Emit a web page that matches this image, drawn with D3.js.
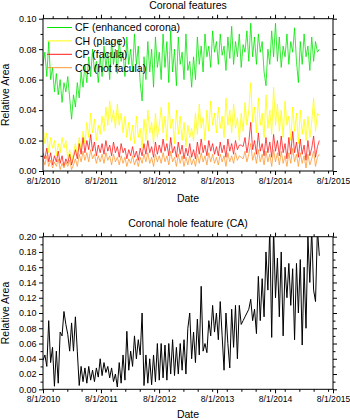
<!DOCTYPE html>
<html><head><meta charset="utf-8">
<script src="https://cdn.jsdelivr.net/npm/d3@7"></script>
<style>
body{margin:0;background:#fff}
text{font-family:"Liberation Sans",Arial,sans-serif;fill:#000}
</style>
</head><body>
<svg id="c" width="350" height="420"></svg>
<script>
// ---------- data ----------
const startDate = "2010-08-01";
const stepDays = 12;
const xTickLabels = ["8/1/2010","8/1/2011","8/1/2012","8/1/2013","8/1/2014","8/1/2015"];
const topTitle = "Coronal features";
const bottomTitle = "Coronal hole feature (CA)";
const seriesNames = ["CF (enhanced corona)","CH (plage)","CP (facula)","CQ (hot facula)"];
const seriesColors = ["#00e600","#ffff00","#ff1a1a","#ff9933"];

const CF = [0.07,0.078,0.062,0.085,0.06,0.068,0.052,0.064,0.05,0.06,0.045,0.058,0.052,0.062,0.048,0.034,
0.05,0.042,0.058,0.048,0.065,0.055,0.07,0.058,0.075,0.062,0.08,0.065,0.072,0.058,0.075,
0.062,0.082,0.068,0.078,0.06,0.085,0.07,0.08,0.064,0.086,0.072,0.078,0.062,0.088,0.07,0.08,
0.065,0.09,0.07,0.082,0.058,0.046,0.075,0.06,0.085,0.065,0.08,0.055,0.088,0.068,0.078,
0.06,0.09,0.068,0.085,0.058,0.092,0.065,0.08,0.056,0.088,0.07,0.078,0.06,0.09,0.066,0.072,0.055,
0.075,0.06,0.088,0.07,0.082,0.065,0.09,0.075,0.082,0.068,0.092,0.078,0.085,
0.07,0.09,0.076,0.082,0.066,0.088,0.074,0.095,0.07,0.085,0.075,0.09,0.068,0.083,0.078,0.092,0.072,
0.097,0.075,0.088,0.07,0.09,0.078,0.085,0.065,0.056,0.08,0.07,0.092,0.075,0.097,
0.072,0.088,0.068,0.082,0.075,0.09,0.07,0.085,0.078,0.094,0.072,0.058,0.085,0.07,0.09,0.075,0.082,0.066,0.088,0.072,0.085,0.078,0.08];

const CH = [0.03,0.018,0.025,0.012,0.022,0.015,0.02,0.01,0.018,0.012,0.022,0.015,0.02,0.008,0.014,0.005,
0.012,0.018,0.01,0.022,0.014,0.026,0.018,0.032,0.022,0.038,0.025,0.034,0.02,0.03,0.024,
0.036,0.026,0.042,0.03,0.046,0.032,0.04,0.028,0.044,0.03,0.038,0.025,0.036,0.022,0.032,0.02,
0.03,0.018,0.036,0.022,0.028,0.015,0.034,0.02,0.04,0.025,0.032,0.018,0.038,0.022,0.03,
0.042,0.025,0.036,0.02,0.045,0.028,0.034,0.018,0.04,0.024,0.036,0.02,0.032,0.016,0.03,0.022,0.028,
0.02,0.038,0.024,0.044,0.028,0.035,0.02,0.04,0.026,0.046,0.03,0.038,0.025,
0.042,0.028,0.036,0.022,0.048,0.03,0.04,0.025,0.044,0.028,0.035,0.02,0.038,0.026,0.045,0.03,0.04,
0.058,0.032,0.042,0.025,0.048,0.03,0.038,0.022,0.05,0.028,0.04,0.024,0.055,0.03,
0.044,0.026,0.04,0.022,0.046,0.03,0.036,0.02,0.042,0.026,0.038,0.018,0.04,0.024,0.034,0.02,0.036,0.022,0.032,0.048,0.026,0.038,0.036];

const CP = [0.012,0.008,0.015,0.006,0.012,0.004,0.01,0.006,0.013,0.005,0.01,0.003,0.008,0.005,0.011,0.004,
0.009,0.014,0.008,0.018,0.011,0.022,0.012,0.02,0.014,0.024,0.013,0.019,0.01,0.017,0.012,
0.018,0.011,0.02,0.013,0.017,0.01,0.019,0.012,0.016,0.009,0.018,0.012,0.015,0.008,0.014,0.01,
0.016,0.009,0.013,0.007,0.015,0.01,0.018,0.011,0.02,0.012,0.016,0.009,0.019,0.011,0.017,
0.012,0.021,0.013,0.018,0.01,0.022,0.012,0.016,0.009,0.019,0.011,0.017,0.008,0.015,0.01,0.018,0.009,
0.014,0.008,0.019,0.011,0.021,0.012,0.017,0.01,0.02,0.013,0.018,0.011,0.016,
0.01,0.019,0.012,0.017,0.009,0.021,0.013,0.018,0.011,0.02,0.014,0.017,0.017,0.016,0.022,0.012,0.019,
0.032,0.014,0.02,0.011,0.025,0.013,0.018,0.01,0.022,0.012,0.019,0.009,0.024,0.013,
0.02,0.01,0.023,0.012,0.018,0.008,0.022,0.011,0.026,0.012,0.019,0.009,0.021,0.011,0.017,0.007,0.02,0.01,0.015,0.023,0.009,0.016,0.02];

const CQ = [0.008,0.004,0.01,0.003,0.007,0.002,0.006,0.003,0.008,0.001,0.005,0.002,0.006,0.003,0.007,0.001,
0.004,0.008,0.003,0.011,0.006,0.013,0.007,0.012,0.006,0.014,0.008,0.011,0.005,0.01,0.006,
0.011,0.005,0.012,0.007,0.01,0.004,0.011,0.006,0.009,0.004,0.01,0.005,0.009,0.003,0.008,0.005,
0.01,0.004,0.008,0.003,0.009,0.005,0.011,0.006,0.012,0.005,0.009,0.003,0.011,0.006,0.01,
0.005,0.012,0.006,0.01,0.004,0.013,0.006,0.009,0.003,0.011,0.005,0.01,0.003,0.009,0.004,0.01,0.004,
0.008,0.003,0.011,0.005,0.012,0.006,0.01,0.004,0.012,0.006,0.011,0.005,0.009,
0.004,0.011,0.006,0.01,0.003,0.012,0.006,0.01,0.005,0.012,0.007,0.01,0.009,0.008,0.013,0.006,0.011,
0.018,0.007,0.012,0.005,0.014,0.006,0.011,0.004,0.013,0.006,0.011,0.003,0.014,0.006,
0.012,0.004,0.013,0.005,0.01,0.003,0.012,0.005,0.015,0.006,0.011,0.003,0.012,0.005,0.01,0.002,0.011,0.004,0.008,0.013,0.003,0.009,0.011];

const CA = [0.038,0.045,0.03,0.09,0.035,0.055,0.004,0.05,0.008,0.075,
0.07,0.102,0.085,0.072,0.05,0.087,0.05,0.095,0.05,0.005,
0.03,0.01,0.028,0.008,0.03,0.012,0.025,0.01,0.028,0.016,
0.04,0.018,0.035,0.022,0.03,0.015,0.028,0.01,0.02,0.003,
0.035,0.008,0.045,0.012,0.076,0.025,0.05,0.03,0.07,0.04,
0.065,0.045,0.1,0.005,0.045,0.008,0.04,0.006,0.045,0.01,
0.06,0.012,0.06,0.015,0.058,0.012,0.06,0.02,0.065,0.018,
0.055,0.02,0.06,0.025,0.065,0.02,0.08,0.1,0.04,0.075,
0.035,0.092,0.045,0.135,0.05,0.06,0.048,0.09,0.07,0.11,
0.075,0.1,0.065,0.115,0.07,0.025,0.1,0.06,0.028,0.105,
0.055,0.11,0.04,0.11,0.085,0.09,0.095,0.1,0.105,0.118,
0.09,0.105,0.073,0.148,0.09,0.145,0.095,0.18,0.13,0.21,
0.068,0.21,0.12,0.172,0.095,0.18,0.07,0.16,0.12,0.165,
0.11,0.158,0.065,0.165,0.1,0.17,0.058,0.16,0.08,0.2,
0.14,0.21,0.13,0.115,0.21,0.175];

const topYTicks = [0,0.02,0.04,0.06,0.08,0.10];
const bottomYTicks = [0,0.02,0.04,0.06,0.08,0.10,0.12,0.14,0.16,0.18,0.20];

// ---------- drawing ----------
const svg = d3.select("#c");
const parse = d3.timeParse("%m/%d/%Y");
const t0 = d3.timeParse("%Y-%m-%d")(startDate);
const dateAt = i => d3.timeDay.offset(t0, i*stepDays);
const xMajor = xTickLabels.map(s => parse(s));
const X0 = 43, X1 = 333;
const x = d3.scaleTime().domain([xMajor[0], xMajor[xMajor.length-1]]).range([X0, X1]);
const xMinor = d3.timeMonth.every(3).range(xMajor[0], xMajor[xMajor.length-1])
  .filter(d => d.getMonth() !== 7);
const fmtX = d3.timeFormat("%-m/%-d/%Y");
const fmtY = d3.format(".2f");

function panel(id, top, bottom, yMax, yTicks, minorStep, title, titleY, dateY) {
  const y = d3.scaleLinear().domain([0, yMax]).range([bottom, top]);
  const g = svg.append("g");
  g.append("clipPath").attr("id", id).append("rect")
    .attr("x", X0).attr("y", top).attr("width", X1 - X0).attr("height", bottom - top);
  const yMinor = d3.range(0, yMax + 1e-9, minorStep).filter(v => !yTicks.some(t => Math.abs(t - v) < 1e-9));

  const tk = (axis, transform, fs) => {
    const a = g.append("g").attr("transform", transform).call(axis);
    a.select(".domain").remove();
    a.selectAll("line").attr("stroke", "#000").attr("stroke-width", 1);
    a.selectAll("text").style("font-size", fs || "9px").attr("fill", "#000");
    return a;
  };
  tk(d3.axisBottom(x).tickValues(xMajor).tickFormat(fmtX).tickSize(4).tickPadding(3), `translate(0,${bottom})`, "8.6px");
  tk(d3.axisBottom(x).tickValues(xMinor).tickFormat("").tickSize(2.5), `translate(0,${bottom})`);
  tk(d3.axisTop(x).tickValues(xMajor).tickFormat("").tickSize(4), `translate(0,${top})`);
  tk(d3.axisTop(x).tickValues(xMinor).tickFormat("").tickSize(2.5), `translate(0,${top})`);
  tk(d3.axisLeft(y).tickValues(yTicks).tickFormat(fmtY).tickSize(4).tickPadding(2.5), `translate(${X0},0)`, "9px");
  tk(d3.axisLeft(y).tickValues(yMinor).tickFormat("").tickSize(2.5), `translate(${X0},0)`);
  tk(d3.axisRight(y).tickValues(yTicks).tickFormat("").tickSize(4), `translate(${X1},0)`);
  tk(d3.axisRight(y).tickValues(yMinor).tickFormat("").tickSize(2.5), `translate(${X1},0)`);

  g.append("text").attr("x", 188).attr("y", titleY).attr("text-anchor", "middle")
    .style("font-size", "10.5px").text(title);
  g.append("text").attr("x", (X0 + X1) / 2).attr("y", dateY).attr("text-anchor", "middle")
    .style("font-size", "10.5px").text("Date");
  g.append("text").attr("transform", `translate(9,${(top + bottom) / 2}) rotate(-90)`)
    .attr("text-anchor", "middle").style("font-size", "10.5px").text("Relative Area");
  return {g, y};
}

function drawLine(p, id, vals, color, w) {
  const line = d3.line().x((d, i) => x(dateAt(i))).y(d => p.y(d));
  p.g.append("path").attr("clip-path", `url(#${id})`).datum(vals)
    .attr("d", line).attr("fill", "none").attr("stroke", color)
    .attr("stroke-width", w).attr("stroke-linejoin", "round");
}

// top panel
const pt = panel("clipTop", 18.7, 171, 0.10, topYTicks, 0.01, topTitle, 9, 202);
[CF, CH, CP, CQ].forEach((s, k) => drawLine(pt, "clipTop", s, seriesColors[k], 0.8));
const leg = pt.g.append("g");
seriesNames.forEach((n, k) => {
  const yy = 27.5 + k * 13.4;
  leg.append("line").attr("x1", 47).attr("x2", 72).attr("y1", yy).attr("y2", yy)
    .attr("stroke", seriesColors[k]).attr("stroke-width", 1);
  leg.append("text").attr("x", 75).attr("y", yy + 3.8).style("font-size", "10.5px").text(n);
});
pt.g.append("rect").attr("x", X0).attr("y", 18.7).attr("width", X1 - X0).attr("height", 171 - 18.7)
  .attr("fill", "none").attr("stroke", "#000").attr("stroke-width", 1);

// bottom panel
const pb = panel("clipBot", 236.7, 389.3, 0.20, bottomYTicks, 0.01, bottomTitle, 226.5, 418);
drawLine(pb, "clipBot", CA, "#000", 1);
pb.g.append("rect").attr("x", X0).attr("y", 236.7).attr("width", X1 - X0).attr("height", 389.3 - 236.7)
  .attr("fill", "none").attr("stroke", "#000").attr("stroke-width", 1);
</script>
</body></html>
